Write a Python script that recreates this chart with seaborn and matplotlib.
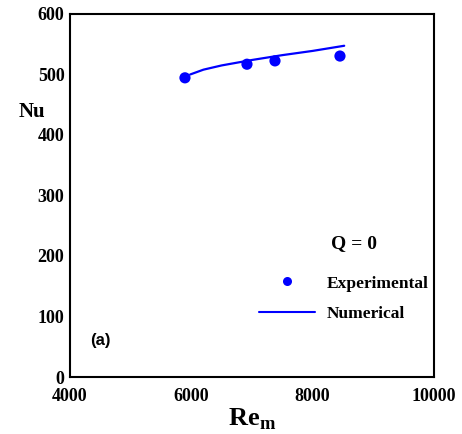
import matplotlib
matplotlib.use("Agg")
import matplotlib.pyplot as plt
import seaborn as sns
import pandas as pd
from matplotlib.lines import Line2D

# Data
exp_re = [5895, 6917, 7379, 8450]
exp_nu = [494.5, 517.0, 522.5, 530.5]
num_re = [5980, 6200, 6500, 7000, 7500, 8000, 8520]
num_nu = [500, 508, 515, 524, 532, 539, 547.5]
xticks = [4000, 6000, 8000, 10000]
yticks = [0, 100, 200, 300, 400, 500, 600]

sns.set_style("white")
plt.rcParams['font.family'] = ['Liberation Serif', 'DejaVu Serif']
plt.rcParams['text.color'] = 'black'
plt.rcParams['mathtext.fontset'] = 'custom'
plt.rcParams['mathtext.rm'] = 'Liberation Serif:bold'
plt.rcParams['mathtext.bf'] = 'Liberation Serif:bold'

fig = plt.figure(figsize=(4.62, 4.34), dpi=100)
ax = fig.add_axes([70/462, 1-377/434, (434-70)/462, (377-14)/434])

df_exp = pd.DataFrame({"Re": exp_re, "Nu": exp_nu})
df_num = pd.DataFrame({"Re": num_re, "Nu": num_nu})
sns.lineplot(data=df_num, x="Re", y="Nu", ax=ax, color="#0000ff", linewidth=1.6, sort=True)
sns.scatterplot(data=df_exp, x="Re", y="Nu", ax=ax, color="#0000ff", s=65, edgecolor="none", zorder=3)

ax.set_xlim(4000, 10000)
ax.set_ylim(0, 600)
ax.set_xticks(xticks)
ax.set_yticks(yticks)
ax.set_xticklabels([str(t) for t in xticks], fontsize=13, fontweight='bold', color='black')
ax.set_yticklabels([str(t) for t in yticks], fontsize=13, fontweight='bold', color='black')
ax.tick_params(direction='in', length=2, width=1, colors='black')
ax.tick_params(axis='x', pad=8)
ax.tick_params(axis='y', pad=4)
for s in ax.spines.values():
    s.set_linewidth(1.5)
    s.set_color('black')
    s.set_visible(True)

ax.set_xlabel("")
ax.set_ylabel("")
fig.text(32/462, 1-112/434, "Nu", fontsize=15, fontweight='bold', ha='center', va='center', color='black')
fig.text(252/462, 1-419/434, r"$\mathbf{Re}_{\mathbf{m}}$", fontsize=19, ha='center', va='center', color='black')

fig.text(100/462, 1-340/434, "(a)", fontsize=12, fontweight='bold', family='Liberation Sans', ha='center', va='center', color='black')
fig.text(354/462, 1-244/434, "Q = 0", fontsize=14, fontweight='bold', ha='center', va='center', color='black')

handles = [Line2D([], [], marker='o', linestyle='none', color='#0000ff', markersize=6.5, markeredgewidth=0),
           Line2D([], [], color='#0000ff', linewidth=1.5)]
leg = ax.legend(handles, ["Experimental", "Numerical"], frameon=False,
                loc='center', bbox_to_anchor=(344/462, 1-298.5/434), bbox_transform=fig.transFigure,
                handlelength=3.2, handletextpad=0.7, labelspacing=0.8, borderpad=0, borderaxespad=0,
                prop={'family': 'Liberation Serif', 'weight': 'bold', 'size': 12.5})
for t in leg.get_texts():
    t.set_color('black')

fig.savefig("out.png", dpi=100)
